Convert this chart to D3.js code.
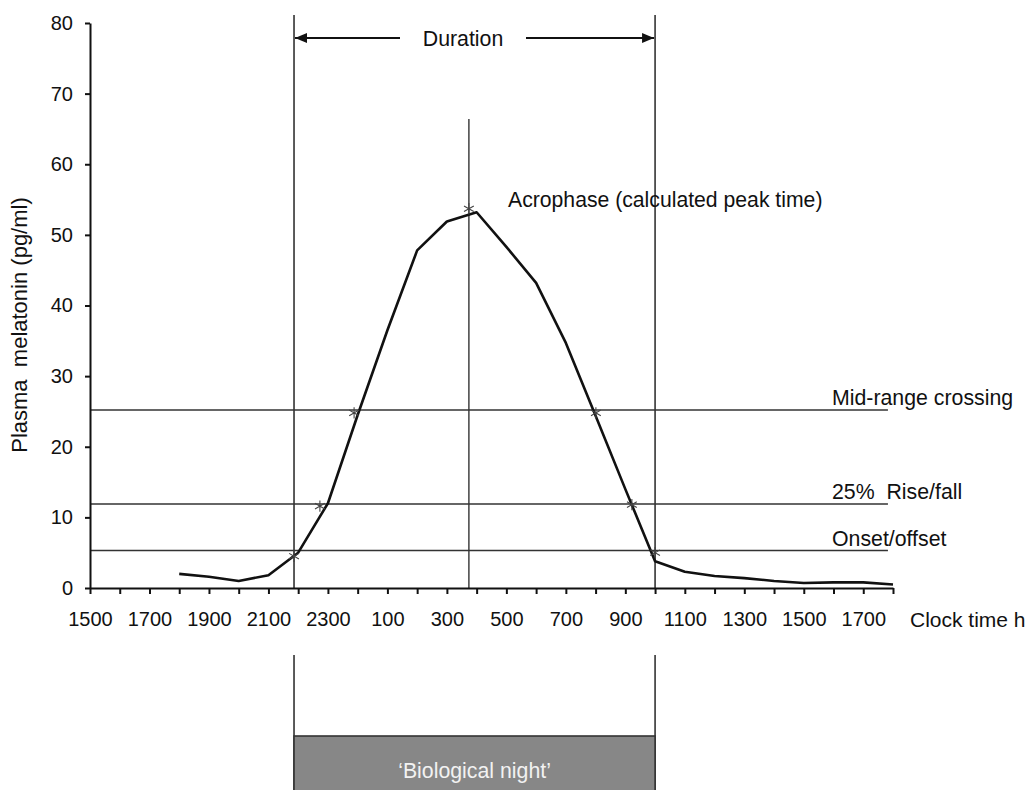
<!DOCTYPE html>
<html>
<head>
<meta charset="utf-8">
<script src="https://cdn.jsdelivr.net/npm/d3@7"></script>
<style>
  html, body { margin: 0; padding: 0; background: #fff; }
  svg { display: block; }
  text { font-family: "Liberation Sans", Arial, Helvetica, sans-serif; fill: #111; }
</style>
</head>
<body>
<svg id="chart" width="1030" height="790"></svg>
<script>
// ---- data ----
// hours since 15:00 on day 1 (0 = 1500, 9 = 0000, 27 = 1800 next day)
const sampleHours = [3, 4, 5, 6, 7, 8, 9, 10, 11, 12, 13, 14, 15, 16, 17, 18, 19, 20, 21, 22, 23, 24, 25, 26, 27];
const melatonin   = [2.0, 1.6, 1.0, 1.8, 5.0, 12.0, 24.5, 36.5, 47.8, 51.9, 53.2, 48.3, 43.2, 34.7, 24.4, 14.0, 3.8, 2.3, 1.7, 1.4, 1.0, 0.7, 0.8, 0.8, 0.5];

const xTickHours  = [0, 2, 4, 6, 8, 10, 12, 14, 16, 18, 20, 22, 24, 26];
const xTickLabels = ["1500", "1700", "1900", "2100", "2300", "100", "300", "500", "700", "900", "1100", "1300", "1500", "1700"];
const yTicks      = [0, 10, 20, 30, 40, 50, 60, 70, 80];

// threshold levels (pg/ml) and their labels
const levelNames  = ["Mid-range crossing", "25%  Rise/fall", "Onset/offset"];
const levelValues = [25.2, 11.9, 5.3];

// derived phase markers: [hour, value]
const markerHours  = [6.86, 7.73, 8.88, 12.74, 17.01, 18.22, 19.0];
const markerValues = [4.5, 11.6, 24.8, 53.7, 24.8, 11.8, 5.0];

const onsetHour = 6.86, offsetHour = 19.0, acrophaseHour = 12.74;

// ---- drawing ----
const svg = d3.select("#chart");
const x = d3.scaleLinear().domain([0, 27]).range([90, 893]);
const y = d3.scaleLinear().domain([0, 80]).range([588, 23]);

// threshold lines
svg.append("g").selectAll("line").data(levelValues).join("line")
  .attr("x1", x(0)).attr("x2", x(26.83))
  .attr("y1", d => y(d)).attr("y2", d => y(d))
  .attr("stroke", "#333").attr("stroke-width", 1.4);

svg.append("g").selectAll("text").data(levelNames).join("text")
  .attr("x", 832)
  .attr("y", (d, i) => y(levelValues[i]) - 5)
  .attr("font-size", 21.3)
  .style("white-space", "pre")
  .attr("xml:space", "preserve")
  .text(d => d);

// vertical lines: onset/offset (duration) and acrophase
[onsetHour, offsetHour].forEach(h => {
  svg.append("line").attr("x1", x(h)).attr("x2", x(h))
    .attr("y1", 15).attr("y2", y(0))
    .attr("stroke", "#333").attr("stroke-width", 1.6);
  svg.append("line").attr("x1", x(h)).attr("x2", x(h))
    .attr("y1", 655).attr("y2", 790)
    .attr("stroke", "#333").attr("stroke-width", 1.6);
});
svg.append("line").attr("x1", x(acrophaseHour)).attr("x2", x(acrophaseHour))
  .attr("y1", 119).attr("y2", y(0))
  .attr("stroke", "#333").attr("stroke-width", 1.4);

// biological night bar
svg.append("rect")
  .attr("x", x(onsetHour)).attr("y", 736)
  .attr("width", x(offsetHour) - x(onsetHour)).attr("height", 60)
  .attr("fill", "#878787").attr("stroke", "#333").attr("stroke-width", 1.6);
svg.append("text")
  .attr("x", (x(onsetHour) + x(offsetHour)) / 2).attr("y", 778)
  .attr("text-anchor", "middle").attr("font-size", 21.3)
  .style("fill", "#f2f2f2")
  .text("\u2018Biological night\u2019");

// duration arrow
const defs = svg.append("defs");
defs.append("marker").attr("id", "ah")
  .attr("viewBox", "0 0 12 10").attr("refX", 12).attr("refY", 5)
  .attr("markerWidth", 12).attr("markerHeight", 10)
  .attr("markerUnits", "userSpaceOnUse").attr("orient", "auto")
  .append("path").attr("d", "M0,0 L12,5 L0,10 Z").attr("fill", "#111");
svg.append("line").attr("x1", 400).attr("x2", x(onsetHour) + 1)
  .attr("y1", 38).attr("y2", 38).attr("stroke", "#111").attr("stroke-width", 2)
  .attr("marker-end", "url(#ah)");
svg.append("line").attr("x1", 526).attr("x2", x(offsetHour) - 1)
  .attr("y1", 38).attr("y2", 38).attr("stroke", "#111").attr("stroke-width", 2)
  .attr("marker-end", "url(#ah)");
svg.append("text").attr("x", 463).attr("y", 46)
  .attr("text-anchor", "middle").attr("font-size", 21.3).text("Duration");

svg.append("text").attr("x", 508).attr("y", 207)
  .attr("font-size", 21.2).text("Acrophase (calculated peak time)");

// melatonin curve
const line = d3.line().x(d => x(d[0])).y(d => y(d[1]));
svg.append("path")
  .datum(sampleHours.map((h, i) => [h, melatonin[i]]))
  .attr("d", line)
  .attr("fill", "none").attr("stroke", "#111").attr("stroke-width", 2.6)
  .attr("stroke-linejoin", "round");

// markers
svg.append("g").selectAll("path").data(markerHours).join("path")
  .attr("transform", (d, i) => `translate(${x(d)},${y(markerValues[i])})`)
  .attr("d", d3.symbol().type(d3.symbolAsterisk).size(90))
  .attr("fill", "none").attr("stroke", "#444").attr("stroke-width", 1.1);

// y axis
const yAxis = svg.append("g").attr("transform", `translate(${x(0)},0)`)
  .call(d3.axisLeft(y).tickValues(yTicks).tickSize(5).tickSizeOuter(0).tickPadding(12));
yAxis.select(".domain").attr("stroke", "#111").attr("stroke-width", 2);
yAxis.selectAll(".tick line").attr("stroke", "#111").attr("stroke-width", 2);
yAxis.selectAll(".tick text").attr("font-size", 20)
  .attr("font-family", "Liberation Sans, Arial, sans-serif").attr("fill", "#111");

// x axis
const xAxis = svg.append("g").attr("transform", `translate(0,${y(0)})`)
  .call(d3.axisBottom(x).tickValues(d3.range(0, 28)).tickSize(6).tickSizeOuter(0).tickPadding(18)
    .tickFormat(d => { const k = xTickHours.indexOf(d); return k >= 0 ? xTickLabels[k] : ""; }));
xAxis.select(".domain").attr("stroke", "#111").attr("stroke-width", 2);
xAxis.selectAll(".tick line").attr("stroke", "#111").attr("stroke-width", 2);
xAxis.selectAll(".tick text").attr("font-size", 20)
  .attr("font-family", "Liberation Sans, Arial, sans-serif").attr("fill", "#111");

svg.append("text").attr("x", 910).attr("y", 627).attr("font-size", 21).text("Clock time h");

// y axis title
svg.append("text")
  .attr("transform", "translate(27,325) rotate(-90)")
  .attr("text-anchor", "middle").attr("font-size", 22)
  .attr("xml:space", "preserve").style("white-space", "pre")
  .text("Plasma  melatonin (pg/ml)");
</script>
</body>
</html>
